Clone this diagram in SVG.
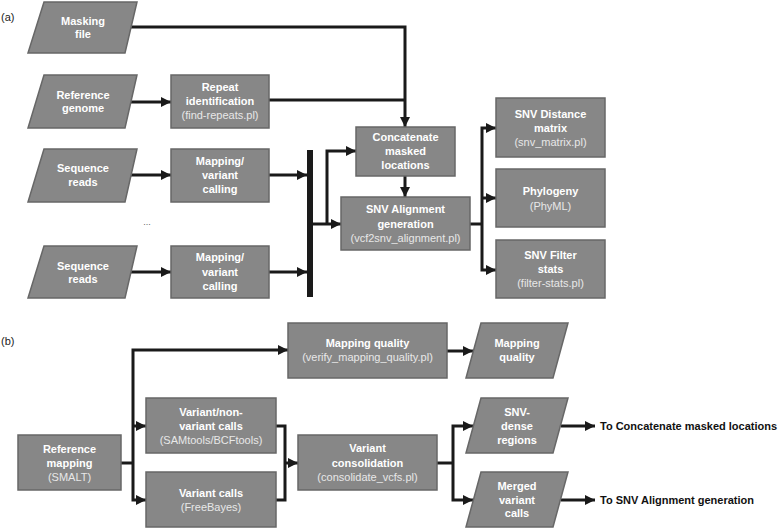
<svg xmlns="http://www.w3.org/2000/svg" width="781" height="528" viewBox="0 0 781 528">
<style>
.box{fill:#878787;stroke:#676767;stroke-width:1.5}
.t{font-family:"Liberation Sans",Arial,sans-serif;font-size:11px;font-weight:bold;fill:#ffffff;text-anchor:middle}
.s{font-family:"Liberation Sans",Arial,sans-serif;font-size:11px;fill:#e8e8e8;text-anchor:middle}
.lbl{font-family:"Liberation Sans",Arial,sans-serif;font-size:11px;fill:#222}
.out{font-family:"Liberation Sans",Arial,sans-serif;font-size:11px;font-weight:bold;fill:#111}
.c{fill:none;stroke:#1a1a1a;stroke-width:3}
.a{marker-end:url(#ah)}
</style>
<defs>
<marker id="ah" viewBox="0 0 10 10" refX="10" refY="5" markerWidth="10" markerHeight="10" markerUnits="userSpaceOnUse" orient="auto">
<path d="M0,0 L10,5 L0,10 z" fill="#1a1a1a"/>
</marker>
</defs>
<rect width="781" height="528" fill="#ffffff"/>
<text class="lbl" x="1" y="21">(a)</text>
<text class="lbl" x="1" y="345">(b)</text>

<g id="connectors">
<path class="c a" d="M131,27 H405 V127"/>
<path class="c" d="M269,100 H405"/>
<path class="c a" d="M131,102 H171"/>
<path class="c a" d="M131,175 H171"/>
<path class="c a" d="M131,272 H171"/>
<path class="c a" d="M269,175 H307"/>
<path class="c a" d="M269,272 H307"/>
<rect x="307" y="150" width="6" height="147" fill="#1a1a1a"/>
<path class="c a" d="M313,224 H341"/>
<path class="c a" d="M327,224 V151 H356"/>
<path class="c a" d="M405,176 V197"/>
<path class="c" d="M470,224 H482"/>
<path class="c a" d="M482,224 V128 H496"/>
<path class="c a" d="M482,198 H496"/>
<path class="c a" d="M482,224 V270 H496"/>

<path class="c" d="M121,463 H133"/>
<path class="c a" d="M133,463 V350 H288"/>
<path class="c a" d="M133,426 H146"/>
<path class="c a" d="M133,463 V500 H146"/>
<path class="c" d="M276,426 H285 V500 H276"/>
<path class="c a" d="M285,463 H298"/>
<path class="c a" d="M447,351 H473"/>
<path class="c" d="M437,463 H453"/>
<path class="c a" d="M453,463 V426 H473"/>
<path class="c a" d="M453,463 V500 H473"/>
<path class="c a" d="M561,426 H595"/>
<path class="c a" d="M561,500 H595"/>
</g>

<g id="masking-file">
<polygon class="box" points="44,2 137,2 125,53 28,53"/>
<text class="t" x="83" y="25">Masking</text>
<text class="t" x="83" y="38">file</text>
</g>
<g id="reference-genome">
<polygon class="box" points="44,75 137,75 125,128 28,128"/>
<text class="t" x="83" y="99">Reference</text>
<text class="t" x="83" y="112">genome</text>
</g>
<g id="repeat-identification">
<rect class="box" x="171" y="75" width="98" height="53"/>
<text class="t" x="220" y="91">Repeat</text>
<text class="t" x="220" y="105">identification</text>
<text class="s" x="220" y="119">(find-repeats.pl)</text>
</g>
<g id="sequence-reads-1">
<polygon class="box" points="44,149 137,149 125,202 28,202"/>
<text class="t" x="83" y="172">Sequence</text>
<text class="t" x="83" y="186">reads</text>
</g>
<g id="mapping-1">
<rect class="box" x="171" y="149" width="98" height="53"/>
<text class="t" x="220" y="165">Mapping/</text>
<text class="t" x="220" y="179">variant</text>
<text class="t" x="220" y="193">calling</text>
</g>
<text x="147" y="225" style="font-family:'Liberation Sans',Arial,sans-serif;font-size:9px;fill:#666;text-anchor:middle">...</text>
<g id="sequence-reads-2">
<polygon class="box" points="44,246 137,246 125,298 28,298"/>
<text class="t" x="83" y="270">Sequence</text>
<text class="t" x="83" y="283">reads</text>
</g>
<g id="mapping-2">
<rect class="box" x="171" y="246" width="98" height="52"/>
<text class="t" x="220" y="261">Mapping/</text>
<text class="t" x="220" y="276">variant</text>
<text class="t" x="220" y="290">calling</text>
</g>
<g id="concatenate">
<rect class="box" x="356" y="127" width="99" height="49"/>
<text class="t" x="405.5" y="141">Concatenate</text>
<text class="t" x="405.5" y="155">masked</text>
<text class="t" x="405.5" y="169">locations</text>
</g>
<g id="snv-alignment">
<rect class="box" x="341" y="197" width="129" height="53"/>
<text class="t" x="405.5" y="213">SNV Alignment</text>
<text class="t" x="405.5" y="228">generation</text>
<text class="s" x="405.5" y="242">(vcf2snv_alignment.pl)</text>
</g>
<g id="snv-distance">
<rect class="box" x="496" y="98" width="109" height="59"/>
<text class="t" x="550.5" y="118">SNV Distance</text>
<text class="t" x="550.5" y="132">matrix</text>
<text class="s" x="550.5" y="146">(snv_matrix.pl)</text>
</g>
<g id="phylogeny">
<rect class="box" x="496" y="169" width="109" height="58"/>
<text class="t" x="550.5" y="195">Phylogeny</text>
<text class="s" x="550.5" y="210">(PhyML)</text>
</g>
<g id="snv-filter">
<rect class="box" x="496" y="240" width="109" height="58"/>
<text class="t" x="550.5" y="259">SNV Filter</text>
<text class="t" x="550.5" y="273">stats</text>
<text class="s" x="550.5" y="287">(filter-stats.pl)</text>
</g>

<g id="reference-mapping">
<rect class="box" x="18" y="435" width="103" height="55"/>
<text class="t" x="69.5" y="453">Reference</text>
<text class="t" x="69.5" y="467">mapping</text>
<text class="s" x="69.5" y="481">(SMALT)</text>
</g>
<g id="mapping-quality">
<rect class="box" x="288" y="323" width="159" height="55"/>
<text class="t" x="367.5" y="347">Mapping quality</text>
<text class="s" x="367.5" y="361">(verify_mapping_quality.pl)</text>
</g>
<g id="mapping-quality-out">
<polygon class="box" points="481,323 568,323 553,378 466,378"/>
<text class="t" x="517" y="347">Mapping</text>
<text class="t" x="517" y="361">quality</text>
</g>
<g id="variant-nonvariant">
<rect class="box" x="146" y="398" width="130" height="55"/>
<text class="t" x="211" y="416">Variant/non-</text>
<text class="t" x="211" y="430">variant calls</text>
<text class="s" x="211" y="444">(SAMtools/BCFtools)</text>
</g>
<g id="variant-calls">
<rect class="box" x="146" y="472" width="130" height="55"/>
<text class="t" x="211" y="497">Variant calls</text>
<text class="s" x="211" y="511">(FreeBayes)</text>
</g>
<g id="variant-consolidation">
<rect class="box" x="298" y="435" width="139" height="55"/>
<text class="t" x="367.5" y="452">Variant</text>
<text class="t" x="367.5" y="467">consolidation</text>
<text class="s" x="367.5" y="481">(consolidate_vcfs.pl)</text>
</g>
<g id="snv-dense">
<polygon class="box" points="481,398 568,398 553,453 466,453"/>
<text class="t" x="517" y="416">SNV-</text>
<text class="t" x="517" y="430">dense</text>
<text class="t" x="517" y="444">regions</text>
</g>
<g id="merged-calls">
<polygon class="box" points="481,472 568,472 553,527 466,527"/>
<text class="t" x="517" y="490">Merged</text>
<text class="t" x="517" y="504">variant</text>
<text class="t" x="517" y="517">calls</text>
</g>
<text class="out" x="600" y="430">To Concatenate masked locations</text>
<text class="out" x="600" y="504">To SNV Alignment generation</text>
</svg>
